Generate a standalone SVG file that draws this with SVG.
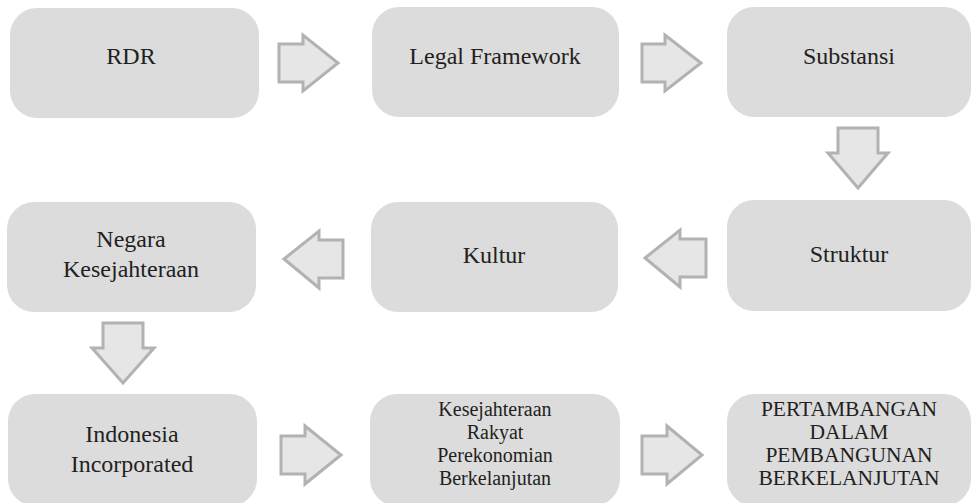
<svg xmlns="http://www.w3.org/2000/svg" width="972" height="503" viewBox="0 0 972 503">
  <style>
    .box { fill: #dcdcdd; }
    .lbl { font-family: "Liberation Serif", "DejaVu Serif", serif; font-size: 24px; fill: #231f20; text-anchor: middle; }
    .sm { font-size: 20px; }
    .caps { font-size: 21.5px; }
    .arr { fill: #e6e6e7; stroke: #b2b2b3; stroke-width: 3; stroke-linejoin: miter; }
  </style>
  <rect width="972" height="503" fill="#ffffff"/>

  <!-- flow connectors: block arrows -->
  <g id="connectors">
    <polygon class="arr" points="279,44 303,44 303,35 338,63 303,91 303,82 279,82"/>
    <polygon class="arr" points="642,44 665,44 665,35 701,63 665,91 665,82 642,82"/>
    <polygon class="arr" points="838,128 878,128 878,153 888,153 858,188 828,153 838,153"/>
    <polygon class="arr" points="706,239 680,239 680,230 645,258 680,287 680,277 706,277"/>
    <polygon class="arr" points="343,240 319,240 319,231 284,259 319,288 319,278 343,278"/>
    <polygon class="arr" points="103,323 143,323 143,348 154,348 123,383 92,348 103,348"/>
    <polygon class="arr" points="281,436 305,436 305,426 341,455 305,484 305,474 281,474"/>
    <polygon class="arr" points="642,436 667,436 667,426 702,455 667,484 667,474 642,474"/>
  </g>

  <g id="rdr">
    <rect class="box" x="10" y="8" width="249" height="110" rx="27"/>
    <text class="lbl" x="131" y="64">RDR</text>
  </g>
  <g id="legal-framework">
    <rect class="box" x="372" y="7" width="247" height="110" rx="27"/>
    <text class="lbl" x="495" y="64">Legal Framework</text>
  </g>
  <g id="substansi">
    <rect class="box" x="727" y="7" width="244" height="110" rx="27"/>
    <text class="lbl" x="849" y="64">Substansi</text>
  </g>
  <g id="struktur">
    <rect class="box" x="727" y="200" width="244" height="111" rx="27"/>
    <text class="lbl" x="849" y="262">Struktur</text>
  </g>
  <g id="kultur">
    <rect class="box" x="371" y="202" width="247" height="110" rx="27"/>
    <text class="lbl" x="494" y="263">Kultur</text>
  </g>
  <g id="negara-kesejahteraan">
    <rect class="box" x="7" y="202" width="249" height="110" rx="27"/>
    <text class="lbl" x="131" y="247">Negara</text>
    <text class="lbl" x="131" y="277">Kesejahteraan</text>
  </g>
  <g id="indonesia-incorporated">
    <rect class="box" x="8" y="394" width="249" height="112" rx="27"/>
    <text class="lbl" x="132" y="442">Indonesia</text>
    <text class="lbl" x="132" y="472">Incorporated</text>
  </g>
  <g id="kesejahteraan-rakyat">
    <rect class="box" x="370" y="394" width="250" height="112" rx="27"/>
    <text class="lbl sm" x="495" y="416">Kesejahteraan</text>
    <text class="lbl sm" x="495" y="439">Rakyat</text>
    <text class="lbl sm" x="495" y="462">Perekonomian</text>
    <text class="lbl sm" x="495" y="485">Berkelanjutan</text>
  </g>
  <g id="pertambangan">
    <rect class="box" x="727" y="394" width="244" height="112" rx="27"/>
    <text class="lbl caps" x="849" y="416">PERTAMBANGAN</text>
    <text class="lbl caps" x="849" y="439">DALAM</text>
    <text class="lbl caps" x="849" y="462">PEMBANGUNAN</text>
    <text class="lbl caps" x="849" y="485">BERKELANJUTAN</text>
  </g>
</svg>
